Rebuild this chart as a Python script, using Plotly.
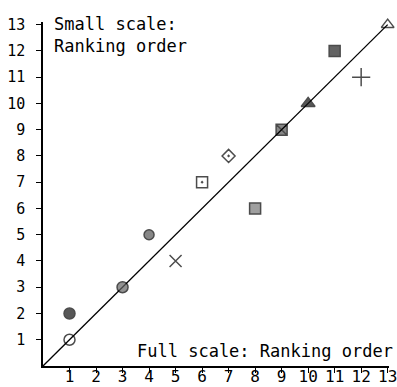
import plotly.graph_objects as go

# Data: full-scale rank (x) vs small-scale rank (y)
full_rank = [1, 1, 3, 4, 5, 6, 7, 8, 9, 10, 11, 12, 13]
small_rank = [1, 2, 3, 5, 4, 7, 8, 6, 9, 10, 12, 11, 13]
symbols = ["circle-open", "circle", "circle", "circle", "x-thin-open",
           "square-open-dot", "diamond-open-dot", "square", "square-x",
           "triangle-up", "square", "cross-thin-open", "triangle-up-open"]
fills = ["black", "#111", "#666", "#555", "black", "black", "black",
         "#777", "#555", "#111", "#222", "black", "black"]
sizes = [11, 11, 11, 10, 12, 11, 10, 11, 11, 12, 11, 13, 11]
ticks = list(range(1, 14))
diag = [0, 13]

fig = go.Figure()
fig.add_trace(go.Scatter(x=diag, y=diag, mode="lines",
                         line=dict(color="black", width=1.3),
                         hoverinfo="skip", showlegend=False))
fig.add_trace(go.Scatter(
    x=full_rank, y=small_rank, mode="markers", cliponaxis=False,
    marker=dict(symbol=symbols, color=fills, size=sizes,
                line=dict(color="black", width=1.5)),
    showlegend=False))

font = "DejaVu Sans Mono"
fig.add_annotation(x=0.35, y=1.0, xref="x", yref="paper", xanchor="left",
                   yanchor="top", align="left", showarrow=False, yshift=10,
                   text="Small scale:<br>Ranking order",
                   font=dict(family=font, size=17, color="black"))
fig.add_annotation(x=1.018, y=0.0, xref="paper", yref="y", xanchor="right",
                   yanchor="bottom", showarrow=False, yshift=3,
                   text="Full scale: Ranking order",
                   font=dict(family=font, size=17, color="black"))

fig.update_layout(
    width=397, height=387,
    margin=dict(l=43, r=8, t=22, b=21),
    paper_bgcolor="white", plot_bgcolor="white",
    font=dict(family=font, color="black"),
)
fig.update_xaxes(range=[0, 13.05], tickvals=ticks, showgrid=False, automargin=False,
                 zeroline=False, showline=True, linecolor="black", linewidth=1.5,
                 ticks="outside", ticklen=5, tickwidth=1.3, tickcolor="black",
                 tickfont=dict(family=font, size=16, color="black"),
                 ticklabeloverflow="allow", ticklabelstandoff=-10)
fig.update_yaxes(range=[0, 13.1], tickvals=ticks, showgrid=False, automargin=False,
                 zeroline=False, showline=True, linecolor="black", linewidth=1.5,
                 ticks="outside", ticklen=5, tickwidth=1.3, tickcolor="black",
                 tickfont=dict(family=font, size=15, color="black"),
                 ticklabeloverflow="allow", ticklabelstandoff=8)

fig.write_html("out.html", config={"displayModeBar": False},
               post_script="document.body.style.margin='0';"
                           "document.body.style.overflow='hidden';")
